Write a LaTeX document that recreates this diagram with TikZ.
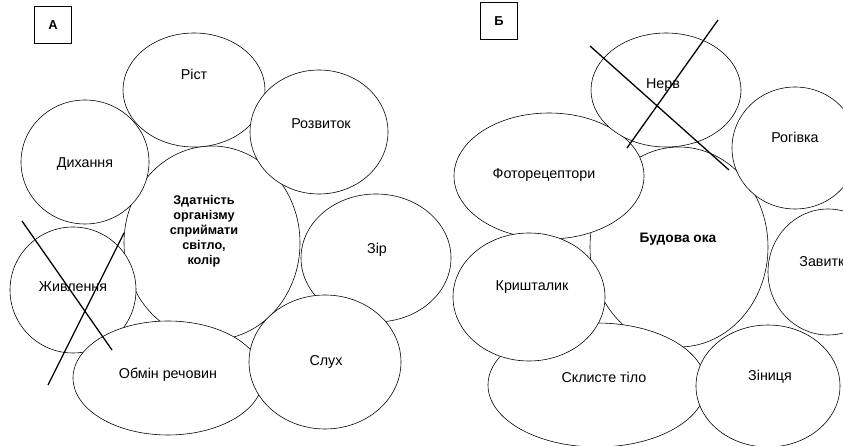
\documentclass[tikz,border=0pt]{standalone}
\usepackage{fontspec}
\setmainfont{Liberation Sans}
\usetikzlibrary{shapes.geometric}

\tikzset{
  blob/.style 2 args={ellipse, draw=black, line width=0.5pt, fill=white,
    inner sep=0pt, minimum width=#1*0.6mm, minimum height=#2*0.6mm},
  word/.style={font=\fontsize{12.2}{14}\selectfont, inner sep=1pt},
  core/.style={font=\fontsize{10.8}{12.8}\selectfont\bfseries, align=center, inner sep=1pt},
  tag/.style={draw=black, line width=0.6pt, minimum width=11mm, minimum height=11mm,
    font=\fontsize{11}{13}\selectfont\bfseries},
  strike/.style={line width=1.1pt, black}
}

\begin{document}
\begin{tikzpicture}[x=0.3mm, y=-0.3mm]
%\draw[help lines] (0,0) grid (843,446);
\clip (0,0) rectangle (843,446);

% panel A
\node[tag] (tagA) at (53,25) {А};

\node[blob={88}{97}] (zdatnist) at (212,243) {};
\node[blob={71}{57}] (rist) at (194,90) {};
\node[blob={69}{62}] (rozvytok) at (319,132) {};
\node[blob={64}{62}] (dykhannia) at (85,162) {};
\node[blob={75}{64}] (zir) at (376,258) {};
\node[blob={63}{63}] (zhyvlennia) at (73,290) {};
\node[blob={95}{57}] (obmin) at (168,378) {};
\node[blob={76}{67}] (slukh) at (325,362) {};

\node[core] (zdatnist-t) at (204,231) {Здатність\\організму\\сприймати\\світло,\\колір};
\node[word] (rist-t) at (194,74) {Ріст};
\node[word] (rozvytok-t) at (321,124) {Розвиток};
\node[word] (dykhannia-t) at (85,164) {Дихання};
\node[word] (zir-t) at (377,250) {Зір};
\node[word] (zhyvlennia-t) at (73,287) {Живлення};
\node[word] (obmin-t) at (168,375) {Обмін речовин};
\node[word] (slukh-t) at (326,362) {Слух};

\coordinate (xa1) at (22,221);
\coordinate (xa2) at (112,350);
\coordinate (xa3) at (124,233);
\coordinate (xa4) at (48,385);
\draw[strike] (xa1) -- (xa2);
\draw[strike] (xa3) -- (xa4);

% panel B
\node[tag] (tagB) at (499,21) {Б};

\node[blob={89}{100}] (budova) at (679,247) {};
\node[blob={109}{62}] (sklyste) at (597,385) {};
\node[blob={72}{61}] (zinytsia) at (768,386) {};
\node[blob={95}{63}] (foto) at (549,176) {};
\node[blob={76}{64}] (kryshtalyk) at (529,297) {};
\node[blob={75}{57}] (nerv) at (666,90) {};
\node[blob={63}{61}] (rohivka) at (795,148) {};
\node[blob={60}{63}] (zavytka) at (828,272) {};

\node[core, font=\fontsize{11.7}{13.5}\selectfont\bfseries] (budova-t) at (678,239) {Будова ока};
\node[word] (sklyste-t) at (604,377) {Склисте тіло};
\node[word] (zinytsia-t) at (770,377) {Зіниця};
\node[word] (foto-t) at (544,175) {Фоторецептори};
\node[word] (kryshtalyk-t) at (532,287) {Кришталик};
\node[word] (nerv-t) at (663,85) {Нерв};
\node[word] (rohivka-t) at (795,137) {Рогівка};
\node[word] (zavytka-t) at (826,262) {Завитка};

\coordinate (xb1) at (590,46);
\coordinate (xb2) at (729,170);
\coordinate (xb3) at (718,20);
\coordinate (xb4) at (627,148);
\draw[strike] (xb1) -- (xb2);
\draw[strike] (xb3) -- (xb4);

\end{tikzpicture}
\end{document}
